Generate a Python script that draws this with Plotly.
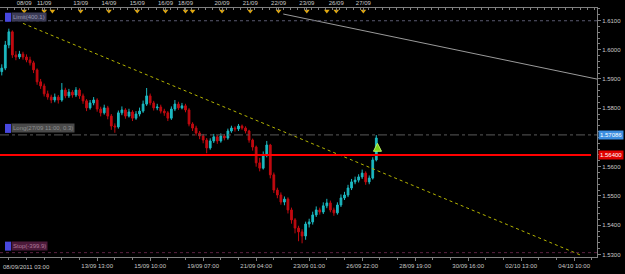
import plotly.graph_objects as go

# ---------------- data (H3 bars) ----------------
open_ = [1.5925,1.5937,1.6016,1.6061,1.5982,1.5975,1.5985,1.5975,1.5965,1.5955,
         1.5931,1.5890,1.5876,1.5849,1.5838,1.5828,1.5838,1.5828,1.5862,1.5842,
         1.5855,1.5845,1.5862,1.5842,1.5825,1.5801,1.5818,1.5828,1.5797,1.5784,
         1.5801,1.5773,1.5739,1.5736,1.5784,1.5794,1.5773,1.5787,1.5766,1.5780,
         1.5790,1.5814,1.5842,1.5818,1.5801,1.5804,1.5790,1.5784,1.5766,1.5797,
         1.5814,1.5801,1.5808,1.5794,1.5746,1.5732,1.5715,1.5705,1.5691,1.5664,
         1.5688,1.5702,1.5688,1.5705,1.5698,1.5722,1.5732,1.5729,1.5739,1.5732,
         1.5722,1.5691,1.5667,1.5613,1.5595,1.5640,1.5674,1.5572,1.5520,1.5503,
         1.5479,1.5489,1.5452,1.5418,1.5390,1.5377,1.5363,1.5404,1.5411,1.5435,
         1.5452,1.5445,1.5466,1.5476,1.5452,1.5442,1.5469,1.5493,1.5503,1.5527,
         1.5548,1.5554,1.5565,1.5578,1.5548,1.5561,1.5623]
close = [1.5937,1.6016,1.6061,1.5982,1.5975,1.5985,1.5975,1.5965,1.5955,1.5931,
         1.5890,1.5876,1.5849,1.5838,1.5828,1.5838,1.5828,1.5862,1.5842,1.5855,
         1.5845,1.5862,1.5842,1.5825,1.5801,1.5818,1.5828,1.5797,1.5784,1.5801,
         1.5773,1.5739,1.5736,1.5784,1.5794,1.5773,1.5787,1.5766,1.5780,1.5790,
         1.5814,1.5842,1.5818,1.5801,1.5804,1.5790,1.5784,1.5766,1.5797,1.5814,
         1.5801,1.5808,1.5794,1.5746,1.5732,1.5715,1.5705,1.5691,1.5664,1.5688,
         1.5702,1.5688,1.5705,1.5698,1.5722,1.5732,1.5729,1.5739,1.5732,1.5722,
         1.5691,1.5667,1.5613,1.5595,1.5640,1.5674,1.5572,1.5520,1.5503,1.5479,
         1.5489,1.5452,1.5418,1.5390,1.5377,1.5363,1.5404,1.5411,1.5435,1.5452,
         1.5445,1.5466,1.5476,1.5452,1.5442,1.5469,1.5493,1.5503,1.5527,1.5548,
         1.5554,1.5565,1.5578,1.5548,1.5561,1.5623,1.5698]
high = [1.5950,1.6030,1.6072,1.6066,1.5995,1.5996,1.5993,1.5984,1.5976,1.5962,
        1.5936,1.5900,1.5884,1.5860,1.5846,1.5850,1.5845,1.5886,1.5870,1.5866,
        1.5862,1.5872,1.5868,1.5850,1.5831,1.5828,1.5838,1.5834,1.5805,1.5812,
        1.5808,1.5780,1.5748,1.5792,1.5806,1.5800,1.5798,1.5793,1.5790,1.5802,
        1.5826,1.5869,1.5850,1.5825,1.5815,1.5812,1.5798,1.5790,1.5806,1.5828,
        1.5822,1.5818,1.5815,1.5800,1.5752,1.5740,1.5722,1.5712,1.5698,1.5697,
        1.5712,1.5708,1.5714,1.5712,1.5730,1.5740,1.5738,1.5746,1.5744,1.5738,
        1.5726,1.5696,1.5672,1.5630,1.5652,1.5688,1.5678,1.5580,1.5528,1.5512,
        1.5498,1.5495,1.5460,1.5424,1.5398,1.5386,1.5412,1.5422,1.5446,1.5464,
        1.5460,1.5478,1.5490,1.5484,1.5460,1.5478,1.5505,1.5514,1.5538,1.5558,
        1.5566,1.5574,1.5590,1.5584,1.5570,1.5632,1.5708]
low = [1.5912,1.5930,1.6005,1.5972,1.5964,1.5968,1.5966,1.5957,1.5946,1.5920,
       1.5880,1.5866,1.5840,1.5829,1.5817,1.5820,1.5816,1.5822,1.5834,1.5835,
       1.5836,1.5838,1.5832,1.5815,1.5790,1.5795,1.5810,1.5788,1.5772,1.5778,
       1.5762,1.5726,1.5716,1.5730,1.5776,1.5764,1.5768,1.5756,1.5760,1.5772,
       1.5784,1.5808,1.5810,1.5792,1.5793,1.5782,1.5774,1.5756,1.5760,1.5790,
       1.5794,1.5796,1.5786,1.5738,1.5722,1.5706,1.5694,1.5680,1.5646,1.5658,
       1.5681,1.5678,1.5682,1.5690,1.5692,1.5716,1.5720,1.5722,1.5726,1.5714,
       1.5682,1.5655,1.5600,1.5584,1.5590,1.5632,1.5560,1.5510,1.5492,1.5470,
       1.5468,1.5440,1.5405,1.5372,1.5345,1.5338,1.5350,1.5392,1.5402,1.5428,
       1.5436,1.5438,1.5458,1.5444,1.5432,1.5436,1.5462,1.5486,1.5496,1.5520,
       1.5540,1.5546,1.5558,1.5538,1.5540,1.5556,1.5618]

# hour-bar index axis (weekends removed), 08/09/2011 03:00 = 0
bar_hour = [3 * k + 1 for k in range(len(close))]

bottom_tick_idx = [82, 127, 172, 217, 262, 307, 352, 397, 442, 487]
bottom_tick_text = ["13/09 13:00", "15/09 10:00", "19/09 07:00", "21/09 04:00",
                    "23/09 01:00", "26/09 22:00", "28/09 19:00", "30/09 16:00",
                    "02/10 13:00", "04/10 10:00"]
first_label = "08/09/2011 03:00"

event_idx = [20, 37, 44, 68, 92, 116, 140, 157, 163, 188, 212, 236, 260, 277, 285, 308]
top_label_idx = [20, 37, 68, 92, 116, 140, 157, 188, 212, 236, 260, 285, 308]
top_label_text = ["08/09", "11/09", "13/09", "14/09", "15/09", "16/09", "18/09",
                  "20/09", "21/09", "22/09", "23/09", "26/09", "27/09"]

price_ticks = [1.53, 1.54, 1.55, 1.56, 1.57, 1.58, 1.59, 1.60, 1.61]
hidden_tick = 1.57  # covered by the 1.57086 price box

long_price = 1.57086
red_level = 1.5640
limit_price = 1.6099
stop_price = 1.5306

trend_yellow_x = [19, 494]
trend_yellow_y = [1.6090, 1.5295]
trend_grey_x = [240, 507]
trend_grey_y = [1.6122, 1.5899]

signal_x = [320]
signal_y = [1.5680]

# ---------------- figure ----------------
X_RANGE = [-0.5, 506.4]
Y_RANGE = [1.52911, 1.61426]
AX = "#808080"
TXT = "#c8c8c8"
FONT = "Liberation Sans, Arial, sans-serif"

fig = go.Figure()

fig.add_trace(go.Scatter(x=trend_grey_x, y=trend_grey_y, mode="lines",
                         line=dict(color="#9a9a9a", width=1), hoverinfo="skip",
                         showlegend=False))
fig.add_trace(go.Scatter(x=trend_yellow_x, y=trend_yellow_y, mode="lines",
                         line=dict(color="#b4b400", width=1, dash="dot"),
                         hoverinfo="skip", showlegend=False))

fig.add_trace(go.Candlestick(
    x=bar_hour, open=open_, high=high, low=low, close=close,
    increasing=dict(line=dict(color="#1cb8c0", width=1), fillcolor="#1cb8c0"),
    decreasing=dict(line=dict(color="#c00a10", width=1), fillcolor="#c00a10"),
    whiskerwidth=0, showlegend=False))

fig.add_trace(go.Scatter(x=signal_x, y=signal_y, mode="markers",
                         marker=dict(symbol="arrow-up", size=8, color="#7cd21c",
                                     line=dict(color="#b8f060", width=1)),
                         hoverinfo="skip", showlegend=False))

# event markers on the top time strip
fig.add_trace(go.Scatter(x=event_idx, y=[0.988] * len(event_idx), mode="markers",
                         xaxis="x2", yaxis="y2",
                         marker=dict(symbol="triangle-down", size=5, color="#e0a810"),
                         hoverinfo="skip", showlegend=False))

shapes = [
    dict(type="line", xref="paper", x0=0, x1=1, yref="y", y0=limit_price, y1=limit_price,
         line=dict(color="#5a5a70", width=1, dash="dot")),
    dict(type="line", xref="paper", x0=0, x1=1, yref="y", y0=stop_price, y1=stop_price,
         line=dict(color="#5a2040", width=1, dash="dot")),
    dict(type="line", xref="paper", x0=0, x1=1, yref="y", y0=long_price, y1=long_price,
         line=dict(color="#5a5a5a", width=1, dash="dashdot")),
    dict(type="line", xref="paper", x0=0, x1=0.99, yref="y", y0=red_level, y1=red_level,
         line=dict(color="#ff0000", width=2), layer="above"),
]
annotations = []


def order_label(price, text, bg, fg, yshift):
    shapes.append(dict(type="rect", xref="paper", x0=5 / 597, x1=11 / 597,
                       yref="y", ysizemode="pixel", yanchor=price,
                       y0=yshift, y1=yshift + 9, fillcolor="#4848e0",
                       line=dict(width=0), layer="above"))
    annotations.append(dict(xref="paper", x=11 / 597, xanchor="left",
                            yref="y", y=price, yanchor="bottom", yshift=yshift,
                            text=text, showarrow=False, bgcolor=bg,
                            font=dict(family=FONT, size=6, color=fg),
                            borderpad=1))


order_label(limit_price, "Limit(400.1)", "#3c3c58", "#9898b0", -1)
order_label(long_price, "Long(27/09 11:00, 0.3)", "#4a4a4a", "#8e8e8e", 2)
order_label(stop_price, "Stop(-399.9)", "#4c1a3a", "#b07898", 2)

annotations.append(dict(xref="paper", x=1, xanchor="left", xshift=1,
                        yref="y", y=long_price, yanchor="middle",
                        text="1.57086", showarrow=False, bgcolor="#3c8ee0",
                        font=dict(family=FONT, size=6, color="#ffffff"), borderpad=1))
annotations.append(dict(xref="paper", x=1, xanchor="left", xshift=1,
                        yref="y", y=red_level, yanchor="middle",
                        text="1.56400", showarrow=False, bgcolor="#e00000",
                        font=dict(family=FONT, size=6, color="#ffffff"), borderpad=1))
annotations.append(dict(xref="x", x=0, xanchor="left", yref="paper", y=0,
                        yanchor="top", yshift=-5, text=first_label, showarrow=False,
                        font=dict(family=FONT, size=6, color=TXT)))

fig.update_layout(
    width=625, height=274, autosize=False,
    margin=dict(l=0, r=28, t=8, b=17, pad=0),
    paper_bgcolor="#000000", plot_bgcolor="#000000",
    showlegend=False, hovermode=False,
    font=dict(family=FONT, size=6, color=TXT),
    shapes=shapes, annotations=annotations,
    xaxis=dict(range=X_RANGE, showgrid=False, zeroline=False, rangeslider=dict(visible=False),
               showline=True, linecolor=AX, linewidth=1,
               tickmode="array", tickvals=bottom_tick_idx, ticktext=bottom_tick_text,
               ticks="outside", ticklen=3, tickcolor=AX,
               tickfont=dict(family=FONT, size=6, color=TXT),
               minor=dict(ticks="outside", ticklen=2, tickcolor=AX, dtick=15, tick0=7,
                          showgrid=False)),
    xaxis2=dict(range=X_RANGE, overlaying="x", side="top", showgrid=False, zeroline=False,
                showline=True, linecolor=AX, linewidth=1,
                tickmode="array", tickvals=top_label_idx, ticktext=top_label_text,
                ticks="inside", ticklen=3, tickcolor=AX,
                tickfont=dict(family=FONT, size=6, color=TXT),
                minor=dict(ticks="inside", ticklen=2, tickcolor=AX, dtick=6, tick0=0,
                           showgrid=False)),
    yaxis=dict(range=Y_RANGE, side="right", showgrid=False, zeroline=False,
               showline=True, linecolor=AX, linewidth=1,
               tickmode="array", tickvals=price_ticks,
               ticktext=["" if p == hidden_tick else f"{p:.4f}" for p in price_ticks],
               ticks="outside", ticklen=3, tickcolor=AX,
               tickfont=dict(family=FONT, size=6, color=TXT),
               minor=dict(ticks="outside", ticklen=2, tickcolor=AX, dtick=0.002,
                          tick0=1.53, showgrid=False)),
    yaxis2=dict(range=[0, 1], overlaying="y", visible=False, fixedrange=True),
)

fig.write_html("out.html")
